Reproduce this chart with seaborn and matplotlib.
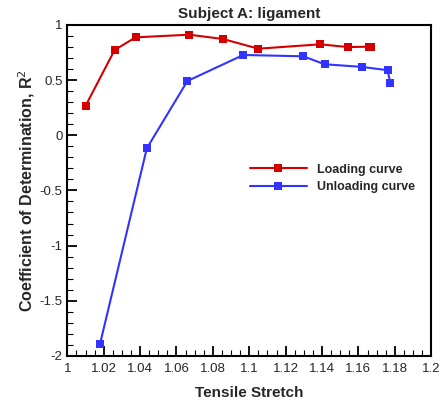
import numpy as np
import pandas as pd
import seaborn as sns
import matplotlib.pyplot as plt
from matplotlib.ticker import MultipleLocator

# Loading curve
load_x = [1.010, 1.026, 1.0375, 1.067, 1.0855, 1.105, 1.139, 1.154, 1.1657, 1.167]
load_y = [0.266, 0.773, 0.888, 0.912, 0.873, 0.785, 0.825, 0.800, 0.803, 0.803]

# Unloading curve
unload_x = [1.018, 1.0437, 1.066, 1.0967, 1.1297, 1.1414, 1.162, 1.176, 1.1775]
unload_y = [-1.89, -0.118, 0.492, 0.728, 0.716, 0.644, 0.620, 0.590, 0.478]

df = pd.concat([
    pd.DataFrame({'stretch': load_x, 'r2': load_y, 'curve': 'Loading curve'}),
    pd.DataFrame({'stretch': unload_x, 'r2': unload_y, 'curve': 'Unloading curve'}),
], ignore_index=True)

sns.set_style('ticks')
plt.rcParams['font.family'] = ['Liberation Sans', 'DejaVu Sans']

fig = plt.figure(figsize=(4.4, 4.03), dpi=100)
ax = fig.add_axes([0.153, 0.117, 0.827, 0.821])

palette = {'Loading curve': '#d40000', 'Unloading curve': '#3333ff'}
sns.lineplot(data=df, x='stretch', y='r2', hue='curve', palette=palette,
             sort=False, estimator=None, marker='s', markersize=5.5,
             markeredgewidth=0, linewidth=1.5, ax=ax)

ax.set_xlim(1, 1.2)
ax.set_ylim(-2, 1)
ax.xaxis.set_major_locator(MultipleLocator(0.02))
ax.xaxis.set_minor_locator(MultipleLocator(0.005))
ax.yaxis.set_major_locator(MultipleLocator(0.5))
ax.yaxis.set_minor_locator(MultipleLocator(0.1))
ax.xaxis.set_major_formatter(plt.FuncFormatter(lambda v, p: f'{v:g}'))
ax.yaxis.set_major_formatter(plt.FuncFormatter(lambda v, p: f'{v:g}'))
ax.tick_params(which='major', direction='in', length=7, width=1.3, labelsize=9.5, color='black')
ax.tick_params(which='minor', direction='in', length=4, width=0.8, color='black')
ax.tick_params(axis='x', pad=5)
for s in ax.spines.values():
    s.set_linewidth(1.5)
    s.set_color('black')

ax.set_title('Subject A: ligament', fontsize=11, fontweight='bold', pad=5)
ax.set_xlabel('Tensile Stretch', fontsize=11, fontweight='bold', labelpad=8)
ax.set_ylabel('Coefficient of Determination, R$^2$', fontsize=11.5, fontweight='bold', labelpad=2)

leg = ax.legend(loc='upper left', bbox_to_anchor=(0.47, 0.615), frameon=False,
                fontsize=9, handlelength=4.6, labelspacing=0.45, handletextpad=0.8)
for t in leg.get_texts():
    t.set_fontweight('bold')

fig.savefig('out.png', dpi=100)
